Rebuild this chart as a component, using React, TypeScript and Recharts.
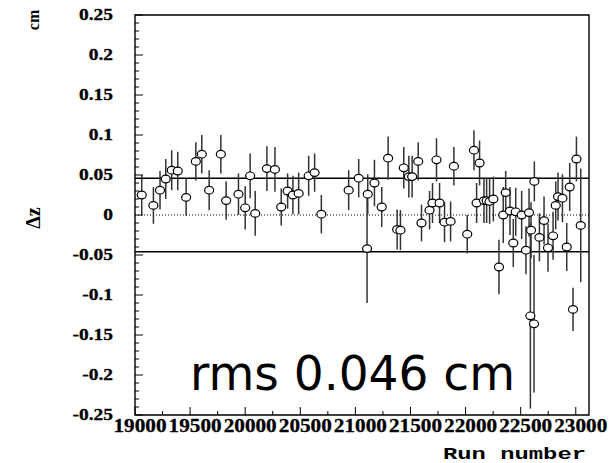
import React from 'react';
import {
  ScatterChart,
  Scatter,
  XAxis,
  YAxis,
  ErrorBar,
  ReferenceLine,
  ReferenceArea,
  Customized,
} from 'recharts';

const runs = [
  19061, 19167, 19227, 19279, 19333, 19388, 19464, 19552, 19606, 19673,
  19779, 19827, 19939, 20000, 20045, 20091, 20197, 20270, 20327, 20385,
  20433, 20485, 20576, 20630, 20691, 20939, 21030, 21106, 21112, 21173,
  21239, 21297, 21379, 21409, 21439, 21485, 21515, 21570, 21600, 21673,
  21700, 21736, 21764, 21809, 21864, 21894, 22015, 22076, 22100, 22127,
  22167, 22191, 22218, 22252, 22303, 22342, 22364, 22403, 22433, 22455,
  22509, 22548, 22576, 22594, 22588, 22621, 22624, 22670, 22712, 22748,
  22794, 22818, 22839, 22879, 22918, 22945, 22975, 23006, 23045,
];

const dz = [
  0.025, 0.012, 0.031, 0.045, 0.056, 0.055, 0.022, 0.067, 0.076, 0.031,
  0.076, 0.018, 0.026, 0.009, 0.049, 0.002, 0.058, 0.057, 0.01, 0.03,
  0.025, 0.027, 0.049, 0.053, 0.001, 0.031, 0.046, -0.042, 0.026, 0.04,
  0.01, 0.071, -0.018, -0.019, 0.059, 0.048, 0.048, 0.067, -0.01, 0.006,
  0.015, 0.069, 0.015, -0.009, -0.008, 0.061, -0.024, 0.081, 0.015, 0.065,
  0.018, 0.018, 0.017, 0.02, -0.065, 0.0, 0.028, 0.005, -0.035, 0.004,
  0.0, -0.044, 0.003, -0.019, -0.126, -0.136, 0.042, -0.028, -0.007, -0.041,
  -0.026, 0.012, 0.023, 0.021, -0.04, 0.035, -0.118, 0.07, -0.013,
];

const dzErr = [
  0.025, 0.023, 0.024, 0.025, 0.025, 0.024, 0.023, 0.024, 0.024, 0.025,
  0.024, 0.024, 0.026, 0.027, 0.028, 0.028, 0.028, 0.028, 0.023, 0.022,
  0.024, 0.026, 0.025, 0.024, 0.024, 0.025, 0.024, 0.068, 0.025, 0.029,
  0.025, 0.027, 0.025, 0.025, 0.026, 0.026, 0.026, 0.024, 0.023, 0.024,
  0.025, 0.027, 0.025, 0.025, 0.025, 0.024, 0.024, 0.025, 0.025, 0.028,
  0.028, 0.028, 0.028, 0.028, 0.034, 0.035, 0.027, 0.03, 0.03, 0.03,
  0.03, 0.03, 0.03, 0.035, 0.116, 0.086, 0.025, 0.03, 0.03, 0.03,
  0.03, 0.03, 0.03, 0.03, 0.03, 0.03, 0.027, 0.028, 0.071,
];

const xTicks = [
  19000, 19250, 19500, 19750, 20000, 20250, 20500, 20750, 21000, 21250,
  21500, 21750, 22000, 22250, 22500, 22750, 23000,
];
const xLabels = [19000, 19500, 20000, 20500, 21000, 21500, 22000, 22500, 23000];

const yTicks = [
  -0.25, -0.24, -0.23, -0.22, -0.21, -0.2, -0.19, -0.18, -0.17, -0.16,
  -0.15, -0.14, -0.13, -0.12, -0.11, -0.1, -0.09, -0.08, -0.07, -0.06,
  -0.05, -0.04, -0.03, -0.02, -0.01, 0, 0.01, 0.02, 0.03, 0.04,
  0.05, 0.06, 0.07, 0.08, 0.09, 0.1, 0.11, 0.12, 0.13, 0.14,
  0.15, 0.16, 0.17, 0.18, 0.19, 0.2, 0.21, 0.22, 0.23, 0.24, 0.25,
];
const yLabels: Record<string, string> = {
  '-0.25': '-0.25', '-0.2': '-0.2', '-0.15': '-0.15', '-0.1': '-0.1', '-0.05': '-0.05',
  '0': '0', '0.05': '0.05', '0.1': '0.1', '0.15': '0.15', '0.2': '0.2', '0.25': '0.25',
};

const rms = 0.046;

const data = runs.map((r, i) => ({ run: r, dz: dz[i], err: dzErr[i] }));

const serif = '"Liberation Serif", "Times New Roman", serif';

const XTick = (props: any) => {
  const { x, y, payload } = props;
  const major = xLabels.includes(payload.value);
  return (
    <g>
      <line x1={x} y1={y} x2={x} y2={y - (major ? 8 : 4)} stroke="#000" strokeWidth={1} />
      {major && (
        <text
          x={x + 5}
          y={y + 17}
          textAnchor="middle"
          fontFamily={serif}
          fontWeight="bold"
          fontSize={18}
          textLength={53}
          lengthAdjust="spacingAndGlyphs"
          fill="#000"
          stroke="#000"
          strokeWidth={0.3}
        >
          {payload.value}
        </text>
      )}
    </g>
  );
};

const YTick = (props: any) => {
  const { x, y, payload } = props;
  const label = yLabels[String(payload.value)];
  return (
    <g>
      <line x1={x} y1={y} x2={x + (label ? 8 : 4)} y2={y} stroke="#000" strokeWidth={1} />
      {label && (
        <text
          transform={`translate(${x - 22}, ${y + 5}) scale(1.18, 1)`}
          textAnchor="end"
          fontFamily={serif}
          fontWeight="bold"
          fontSize={16.5}
          fill="#000"
          stroke="#000"
          strokeWidth={0.3}
        >
          {label}
        </text>
      )}
    </g>
  );
};

const Marker = (props: any) => {
  const { cx, cy } = props;
  return <ellipse cx={cx} cy={cy} rx={4.5} ry={3.8} fill="#fff" stroke="#000" strokeWidth={1.2} />;
};

const Texts = () => (
  <g>
    <text transform="translate(39, 20) rotate(-90)" textAnchor="middle" fontFamily={serif} fontWeight="bold" fontSize={16} fill="#000">
      cm
    </text>
    <text transform="translate(40, 218) rotate(-90)" textAnchor="middle" fontFamily={serif} fontWeight="bold" fontSize={20} fill="#000">
      Δz
    </text>
    <text x={443} y={459} fontFamily='"Liberation Mono", monospace' fontWeight="bold" fontSize={17} textLength={143} lengthAdjust="spacingAndGlyphs" fill="#000">
      Run number
    </text>
    <text x={190} y={390} fontFamily='"DejaVu Sans", sans-serif' fontSize={48} textLength={325} lengthAdjust="spacingAndGlyphs" fill="#000">
      rms {rms.toFixed(3)} cm
    </text>
  </g>
);

export default function App() {
  return (
    <div style={{ position: 'absolute', left: 0, top: 0, width: 611, height: 463, background: '#fff' }}>
      <ScatterChart width={611} height={463} margin={{ top: 15, right: 22, bottom: 0, left: 0 }}>
        <XAxis
          type="number"
          dataKey="run"
          domain={[19000, 23120]}
          ticks={xTicks}
          interval={0}
          height={48}
          axisLine={false}
          tickLine={false}
          tickSize={0}
          tickMargin={0}
          tick={<XTick />}
          allowDataOverflow
        />
        <YAxis
          type="number"
          dataKey="dz"
          domain={[-0.25, 0.25]}
          ticks={yTicks}
          interval={0}
          width={135}
          axisLine={false}
          tickLine={false}
          tickSize={0}
          tickMargin={0}
          tick={<YTick />}
          allowDataOverflow
        />
        <ReferenceArea x1={19000} x2={23120} y1={-0.25} y2={0.25} fill="none" stroke="#000" strokeWidth={1.4} />
        <ReferenceLine y={0} stroke="#000" strokeDasharray="1 2" strokeWidth={1} />
        <ReferenceLine y={rms} stroke="#000" strokeWidth={1.5} />
        <ReferenceLine y={-rms} stroke="#000" strokeWidth={1.5} />
        <Scatter data={data} shape={<Marker />} isAnimationActive={false}>
          <ErrorBar dataKey="err" direction="y" width={0} stroke="#333" strokeWidth={1.5} />
        </Scatter>
        <Customized component={Texts} />
      </ScatterChart>
    </div>
  );
}
